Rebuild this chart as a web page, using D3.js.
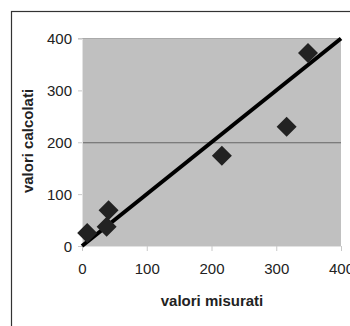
<!DOCTYPE html>
<html>
<head>
<meta charset="utf-8">
<script src="https://cdn.jsdelivr.net/npm/d3@7"></script>
<style>
  html,body{margin:0;padding:0;background:#fff;}
  svg{display:block;font-family:"Liberation Sans",Arial,sans-serif;}
</style>
</head>
<body>
<div id="chart"></div>
<script>
const xMeasured=[8,41,38,216,316,349];
const yCalculated=[25,69,37,174,230,372];
const trendX=[0,400];
const trendY=[0,400];
const xTicks=[0,100,200,300,400];
const yTicks=[0,100,200,300,400];
const gridLines=[200];

const w=350;
const h=326;
const margin={left:82,right:9,top:38.5,bottom:80};

const svg=d3.select("#chart").append("svg").attr("width",w).attr("height",h);

// outer frame, continues past the right and bottom edges
svg.append("rect")
  .attr("x",11.5).attr("y",11.5)
  .attr("width",500).attr("height",500)
  .attr("fill","none").attr("stroke","#333").attr("stroke-width",1.2);

const x=d3.scaleLinear().domain([0,400]).range([margin.left,w-margin.right]);
const y=d3.scaleLinear().domain([0,400]).range([h-margin.bottom,margin.top]);

svg.append("rect")
  .attr("x",x(0)).attr("y",y(400))
  .attr("width",x(400)-x(0)).attr("height",y(0)-y(400))
  .attr("fill","#c0c0c0");

svg.append("line")
  .attr("x1",x(0)-4).attr("x2",x(400))
  .attr("y1",y(400)).attr("y2",y(400))
  .attr("stroke","#aaa");

svg.selectAll(".grid")
  .data(gridLines)
  .enter()
  .append("line")
  .attr("x1",x(0)).attr("x2",x(400))
  .attr("y1",d=>y(d)+0.5).attr("y2",d=>y(d)+0.5)
  .attr("stroke","#666");

const xAxis=svg.append("g")
  .attr("transform",`translate(0,${y(0)})`)
  .call(d3.axisBottom(x).tickValues(xTicks).tickSize(5).tickPadding(12));
const yAxis=svg.append("g")
  .attr("transform",`translate(${x(0)},0)`)
  .call(d3.axisLeft(y).tickValues(yTicks).tickSize(4).tickPadding(6));

[xAxis,yAxis].forEach(g=>{
  g.select(".domain").attr("stroke","#e2e2e2");
  g.selectAll(".tick line").attr("stroke","#c8c8c8");
  g.selectAll(".tick text")
    .attr("fill","#222")
    .style("font-size","15px")
    .style("font-family","'Liberation Sans',Arial,sans-serif");
});
yAxis.selectAll(".tick text").attr("dy","0.36em");

// trend line
svg.append("line")
  .attr("x1",x(trendX[0])).attr("y1",y(trendY[0]))
  .attr("x2",x(trendX[1])).attr("y2",y(trendY[1]))
  .attr("stroke","#000").attr("stroke-width",4);

// diamonds
const d0=10;
svg.selectAll(".pt")
  .data(xMeasured.map((v,i)=>[v,yCalculated[i]]))
  .enter()
  .append("path")
  .attr("d",d=>{
    const cx=x(d[0]), cy=y(d[1]);
    return `M${cx},${cy-d0}L${cx+d0},${cy}L${cx},${cy+d0}L${cx-d0},${cy}Z`;
  })
  .attr("fill","#222");

svg.append("text")
  .attr("x",212).attr("y",306)
  .attr("text-anchor","middle")
  .style("font-size","15px").style("font-weight","bold")
  .attr("fill","#222")
  .text("valori misurati");

svg.append("text")
  .attr("transform","translate(33,141) rotate(-90)")
  .attr("text-anchor","middle")
  .style("font-size","15px").style("font-weight","bold")
  .attr("fill","#222")
  .text("valori calcolati");
</script>
</body>
</html>
